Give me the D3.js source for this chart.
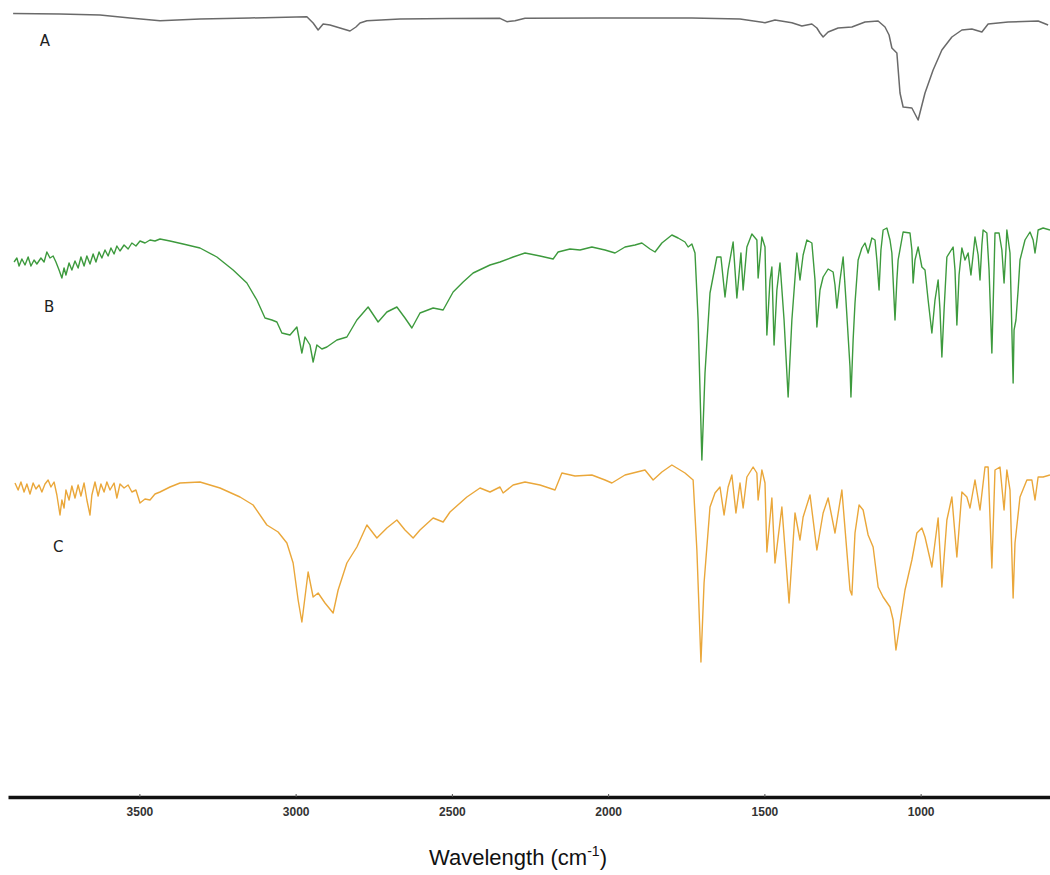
<!DOCTYPE html>
<html>
<head>
<meta charset="utf-8">
<script src="https://cdn.jsdelivr.net/npm/d3@7"></script>
<style>
  html, body { margin: 0; padding: 0; background: #ffffff; }
  svg { display: block; }
</style>
</head>
<body>
<div id="chart"></div>
<script>
// ---- Data (wavenumber cm^-1, relative transmittance in stacked arbitrary units) ----
const tickValues = [3500, 3000, 2500, 2000, 1500, 1000];
const seriesLabels = ["A", "B", "C"];
const axisTitle = "Wavelength (cm";
const axisTitleSup = "-1";

const spectrumA = [
  [3904,78.65],[3754,78.6],[3626,78.5],[3530,78.2],[3434,77.93],[3306,78.1],[3146,78.2],
  [2964,78.33],[2944,77.7],[2928,77.0],[2912,77.6],[2890,77.5],[2858,77.2],[2826,76.9],
  [2807,77.3],[2794,77.7],[2772,77.93],[2666,78.1],[2506,78.15],[2346,78.17],[2324,77.83],
  [2298,77.93],[2266,78.17],[2026,78.2],[1732,78.2],[1578,78.1],[1498,77.73],[1466,78.0],
  [1412,77.73],[1380,77.4],[1348,77.6],[1332,77.2],[1322,76.7],[1312,76.3],[1296,76.8],
  [1264,77.2],[1220,77.3],[1178,77.8],[1136,77.9],[1114,77.3],[1101,76.5],[1092,75.2],
  [1076,74.7],[1066,70.7],[1056,69.3],[1028,69.2],[1008,68.0],[986,70.7],[960,73.0],
  [932,75.0],[900,76.3],[868,77.0],[836,77.1],[804,76.8],[784,77.6],[720,77.8],[624,77.9],[592,77.5]
];

const spectrumB = [
  [3901,53.8],[3892,54.2],[3885,53.4],[3876,54.1],[3866,53.5],[3856,54.3],[3847,53.4],[3837,54.0],
  [3828,53.6],[3815,54.2],[3805,53.8],[3796,54.8],[3786,54.2],[3776,54.4],[3767,53.8],[3757,53.0],
  [3748,52.2],[3741,53.2],[3735,52.5],[3725,53.7],[3716,53.0],[3706,53.9],[3696,53.2],[3687,54.3],
  [3677,53.4],[3668,54.4],[3658,53.6],[3648,54.6],[3639,53.8],[3629,54.8],[3620,54.2],[3610,55.0],
  [3600,54.4],[3591,55.2],[3581,54.6],[3572,55.4],[3562,54.9],[3549,55.5],[3536,55.1],[3524,55.7],
  [3511,55.4],[3498,55.9],[3482,55.7],[3466,56.0],[3450,55.9],[3434,56.1],[3402,55.9],[3360,55.6],
  [3306,55.2],[3252,54.3],[3200,53.0],[3156,51.7],[3124,50.0],[3098,48.2],[3076,48.0],[3060,47.8],
  [3044,46.7],[3018,46.5],[2996,47.3],[2980,44.7],[2970,46.3],[2954,45.5],[2944,43.8],[2932,45.5],
  [2916,45.1],[2900,45.3],[2868,46.0],[2836,46.3],[2804,48.0],[2768,49.3],[2736,47.8],[2708,48.8],
  [2676,49.3],[2650,48.2],[2628,47.2],[2602,48.7],[2560,49.2],[2528,49.0],[2496,50.8],[2464,51.8],
  [2432,52.7],[2378,53.5],[2346,53.8],[2304,54.3],[2266,54.7],[2218,54.4],[2176,54.1],[2160,54.8],
  [2122,55.1],[2090,55.0],[2052,55.3],[2010,55.0],[1978,54.7],[1946,55.3],[1914,55.5],[1892,55.7],
  [1866,55.1],[1850,54.8],[1828,55.7],[1796,56.5],[1776,56.2],[1754,55.8],[1744,55.3],[1732,55.6],
  [1722,54.7],[1712,48.0],[1700,34.0],[1690,42.7],[1674,50.7],[1652,54.3],[1639,54.3],[1626,50.3],
  [1616,53.0],[1600,55.8],[1588,50.2],[1575,54.7],[1568,51.0],[1556,55.3],[1540,56.6],[1524,56.0],
  [1520,52.2],[1508,56.3],[1498,55.3],[1492,46.5],[1482,52.0],[1476,53.3],[1469,45.5],[1460,51.0],
  [1450,53.7],[1437,48.0],[1424,40.3],[1412,48.0],[1396,54.7],[1386,52.0],[1376,54.5],[1364,56.0],
  [1348,55.7],[1338,52.0],[1332,47.3],[1322,51.0],[1312,52.3],[1296,53.1],[1280,52.8],[1274,51.5],
  [1268,49.2],[1258,52.0],[1248,54.3],[1239,50.0],[1226,43.3],[1223,40.3],[1216,46.0],[1210,49.7],
  [1200,54.0],[1188,55.2],[1178,55.7],[1168,54.7],[1156,56.2],[1146,56.0],[1140,54.0],[1133,51.0],
  [1127,55.0],[1120,57.0],[1108,57.2],[1098,56.0],[1092,54.7],[1082,48.0],[1076,52.0],[1072,54.0],
  [1056,56.8],[1034,56.7],[1028,55.0],[1024,51.7],[1018,54.0],[1008,55.3],[996,53.3],[986,53.0],
  [976,50.0],[964,46.7],[954,50.0],[944,52.0],[938,49.0],[932,44.3],[925,49.0],[916,54.3],
  [896,55.3],[890,53.0],[884,47.5],[877,52.5],[868,55.2],[858,54.0],[848,54.7],[839,52.5],
  [832,54.5],[826,56.3],[816,54.5],[810,52.0],[804,55.5],[800,57.0],[788,56.7],[781,53.0],
  [772,44.7],[765,53.0],[762,56.7],[749,56.7],[740,55.0],[733,51.7],[727,55.0],[724,57.0],
  [714,54.7],[708,47.0],[704,41.7],[701,47.0],[695,48.0],[688,51.0],[682,54.0],[666,56.0],
  [650,56.8],[640,56.0],[634,54.7],[628,56.0],[624,57.0],[608,57.2],[586,57.0]
];

const spectrumC = [
  [3898,31.7],[3888,31.0],[3879,31.8],[3869,30.8],[3860,31.6],[3850,30.6],[3840,31.7],[3831,31.1],
  [3821,31.5],[3812,30.8],[3802,31.6],[3792,32.0],[3783,31.3],[3773,31.8],[3764,30.5],[3754,28.5],
  [3748,30.0],[3741,29.2],[3735,31.0],[3725,30.0],[3716,31.4],[3706,30.2],[3696,31.5],[3687,30.4],
  [3677,31.7],[3668,30.0],[3658,28.5],[3652,30.5],[3642,31.8],[3632,30.4],[3623,31.6],[3613,30.8],
  [3604,31.8],[3594,31.0],[3581,31.7],[3572,30.2],[3562,31.6],[3549,31.2],[3536,31.5],[3524,30.8],
  [3511,31.0],[3498,29.7],[3482,30.1],[3466,30.0],[3450,30.6],[3434,30.8],[3402,31.3],[3370,31.7],
  [3306,31.8],[3242,31.2],[3178,30.3],[3136,29.5],[3092,27.5],[3056,26.8],[3028,25.7],[3008,23.7],
  [2992,20.0],[2980,17.8],[2970,20.3],[2960,22.8],[2944,20.3],[2928,20.7],[2906,19.7],[2880,18.7],
  [2864,21.0],[2836,23.7],[2804,25.3],[2772,27.5],[2740,26.2],[2708,27.2],[2676,28.0],[2650,27.0],
  [2624,26.2],[2602,27.0],[2560,28.2],[2528,27.8],[2506,28.8],[2452,30.3],[2410,31.2],[2378,30.8],
  [2346,31.3],[2336,30.7],[2304,31.5],[2266,31.8],[2218,31.5],[2170,31.0],[2148,32.7],[2106,32.4],
  [2052,32.5],[2010,32.0],[1988,31.7],[1946,32.5],[1882,33.0],[1856,32.0],[1828,32.8],[1796,33.5],
  [1754,32.7],[1728,32.0],[1716,25.0],[1703,13.8],[1693,21.7],[1674,29.3],[1658,30.7],[1642,31.3],
  [1629,28.5],[1616,31.3],[1604,32.5],[1591,28.7],[1578,31.7],[1568,29.2],[1556,32.3],[1536,33.3],
  [1524,32.7],[1520,30.0],[1508,33.0],[1498,31.7],[1492,24.8],[1476,30.2],[1466,23.7],[1444,29.3],
  [1421,19.7],[1402,28.7],[1386,26.0],[1376,28.3],[1354,30.5],[1332,25.0],[1312,28.7],[1296,30.2],
  [1274,26.7],[1252,31.0],[1226,21.0],[1220,20.5],[1210,26.7],[1197,29.5],[1184,29.0],[1168,26.5],
  [1152,25.3],[1136,21.3],[1120,20.3],[1098,19.3],[1088,18.0],[1079,15.0],[1066,17.7],[1050,21.0],
  [1028,24.0],[1012,26.7],[996,27.2],[986,26.3],[964,23.3],[944,28.2],[932,21.3],[916,28.0],
  [900,30.3],[884,24.3],[868,30.8],[852,30.3],[842,29.2],[826,32.0],[810,29.0],[794,33.3],
  [784,33.3],[772,23.2],[762,33.0],[746,33.3],[733,29.0],[724,33.0],[714,31.0],[704,20.2],
  [698,25.7],[682,30.3],[660,32.0],[644,32.0],[634,30.0],[624,32.3],[608,32.3],[586,32.5]
];

// label anchor positions in data units (wavenumber, value)
const labelAnchors = [[3802, 75.9], [3789, 49.3], [3760, 25.3]];

// ---- Drawing ----
const W = 1050, H = 875;
const svg = d3.select("#chart").append("svg")
  .attr("width", W).attr("height", H)
  .style("background", "#fff");

const x = d3.scaleLinear().domain([3920.4, 586]).range([8, 1050]);
const y = d3.scaleLinear().domain([0, 80]).range([800, 0]);

const line = d3.line().x(d => x(d[0])).y(d => y(d[1]));

const series = [
  { data: spectrumA, color: "#6a6a6a", width: 1.5 },
  { data: spectrumB, color: "#3d9a3d", width: 1.4 },
  { data: spectrumC, color: "#eaa73a", width: 1.4 }
];

svg.selectAll("path.spec").data(series).enter().append("path")
  .attr("class", "spec")
  .attr("d", d => line(d.data))
  .attr("fill", "none")
  .attr("stroke", d => d.color)
  .attr("stroke-width", d => d.width)
  .attr("stroke-linejoin", "round");

svg.selectAll("text.lab").data(seriesLabels).enter().append("text")
  .attr("class", "lab")
  .attr("x", (d, i) => x(labelAnchors[i][0]))
  .attr("y", (d, i) => y(labelAnchors[i][1]))
  .attr("text-anchor", "middle")
  .attr("dominant-baseline", "central")
  .style("font-family", "'DejaVu Sans', sans-serif")
  .style("font-size", "15px")
  .style("fill", "#222")
  .text(d => d);

// axis
const axisY = 797;
const axis = d3.axisBottom(x)
  .tickValues(tickValues)
  .tickSizeInner(-3)
  .tickSizeOuter(0)
  .tickPadding(10)
  .tickFormat(d3.format("d"));

const gAxis = svg.append("g").attr("transform", `translate(0,${axisY})`).call(axis);
gAxis.select(".domain").attr("stroke", "#111").attr("stroke-width", 3.5);
gAxis.selectAll(".tick line").attr("stroke", "#555").attr("stroke-width", 1);
gAxis.selectAll(".tick text")
  .style("font-family", "'Liberation Sans', Arial, sans-serif")
  .style("font-size", "12px")
  .style("font-weight", "bold")
  .style("fill", "#333");

const title = svg.append("text")
  .attr("x", 518).attr("y", 865)
  .attr("text-anchor", "middle")
  .style("font-family", "'Liberation Sans', Arial, sans-serif")
  .style("font-size", "22px")
  .style("fill", "#111");
title.append("tspan").text(axisTitle);
title.append("tspan").attr("dy", -9).style("font-size", "14px").text(axisTitleSup);
title.append("tspan").attr("dy", 9).text(")");
</script>
</body>
</html>
